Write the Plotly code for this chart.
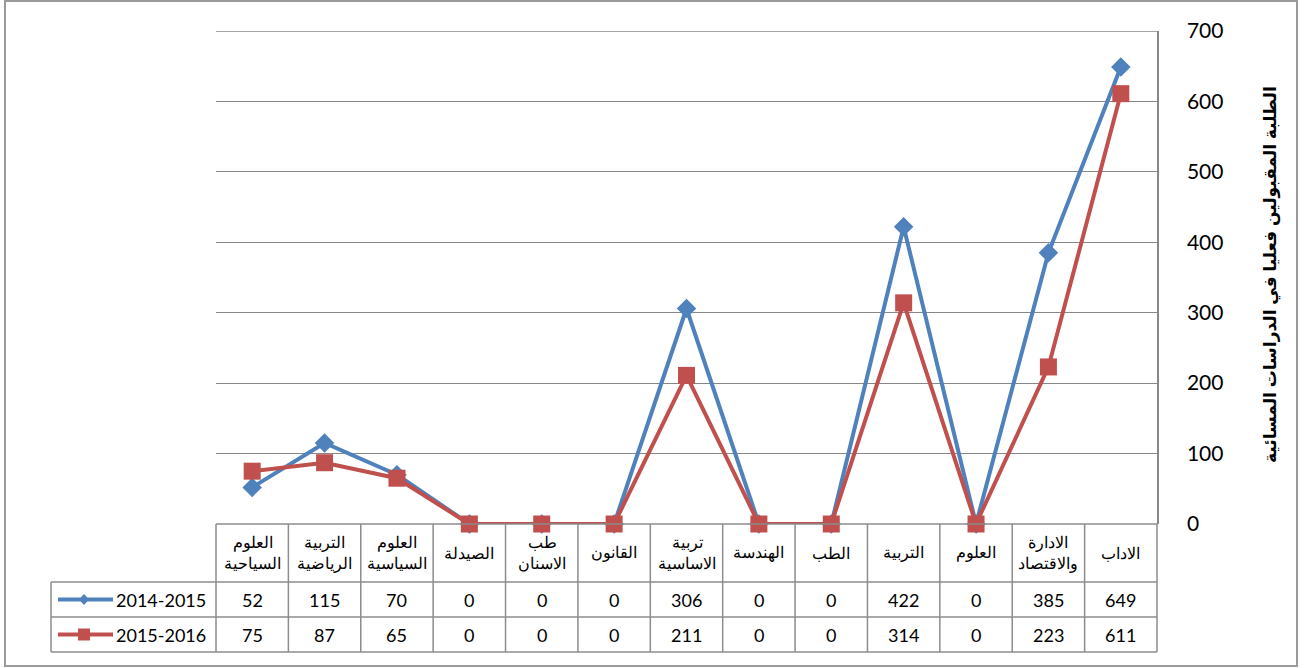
import plotly.graph_objects as go

categories = ["الاداب", "الادارة<br>والاقتصاد", "العلوم", "التربية", "الطب", "الهندسة",
              "تربية<br>الاساسية", "القانون", "طب<br>الاسنان", "الصيدلة",
              "العلوم<br>السياسية", "التربية<br>الرياضية", "العلوم<br>السياحية"]
series_names = ["2014-2015", "2015-2016"]
values_2014 = [649, 385, 0, 422, 0, 0, 306, 0, 0, 0, 70, 115, 52]
values_2015 = [611, 223, 0, 314, 0, 0, 211, 0, 0, 0, 65, 87, 75]
y_ticks = [0, 100, 200, 300, 400, 500, 600, 700]
y_title = "الطلبة المقبولين فعليا في الدراسات المسائية"

W, H = 1304, 668
ML, MR, MT, MB = 216, 147, 31, 144
PW, PH = W - ML - MR, H - MT - MB
n = len(categories)
idx = list(range(n))

def px(x):
    return (x - ML) / PW

def py(y):
    return (H - MB - y) / PH

blue = "#4F81BD"
red = "#C0504D"
grid = "#878787"
tblc = "#8c8c8c"

fig = go.Figure()
fig.add_trace(go.Scatter(x=idx, y=values_2014, mode="lines+markers", name=series_names[0],
                         line=dict(color=blue, width=4),
                         marker=dict(symbol="diamond", size=15, color=blue),
                         cliponaxis=False, showlegend=False))
fig.add_trace(go.Scatter(x=idx, y=values_2015, mode="lines+markers", name=series_names[1],
                         line=dict(color=red, width=4),
                         marker=dict(symbol="square", size=17, color=red),
                         cliponaxis=False, showlegend=False))

shapes = []
annotations = []

# top gridline at the max tick
shapes.append(dict(type="line", xref="paper", yref="y", x0=0, x1=1,
                   y0=y_ticks[-1], y1=y_ticks[-1], line=dict(color=grid, width=1.3),
                   layer="below"))

# table geometry (pixels)
y_hdr_top = H - MB
y_hdr_bot, y_r1_bot, y_r2_bot = 582, 617, 652
x_leg_left = 51

def colx(b):
    return (n - b) / n

tl = dict(color=tblc, width=1.5)
for yy in [y_hdr_bot, y_r1_bot, y_r2_bot]:
    shapes.append(dict(type="line", xref="paper", yref="paper", x0=px(x_leg_left), x1=1,
                       y0=py(yy), y1=py(yy), line=tl))
shapes.append(dict(type="line", xref="paper", yref="paper", x0=0, x1=1, y0=0, y1=0, line=tl))
for b in range(n + 1):
    shapes.append(dict(type="line", xref="paper", yref="paper", x0=colx(b), x1=colx(b),
                       y0=0, y1=py(y_r2_bot), line=tl))
shapes.append(dict(type="line", xref="paper", yref="paper", x0=px(x_leg_left), x1=px(x_leg_left),
                   y0=py(y_hdr_bot), y1=py(y_r2_bot), line=tl))

# outer chart border
shapes.append(dict(type="rect", xref="paper", yref="paper", x0=px(5), x1=px(1297),
                   y0=py(666), y1=py(1), line=dict(color="#9a9a9a", width=2), layer="below"))

arfont = dict(family="Liberation Serif, DejaVu Serif, serif", size=16, color="#000")
numfont = dict(family="Lato, Open Sans, sans-serif", size=18, color="#000")

for i, c in enumerate(categories):
    annotations.append(dict(x=i, y=py((y_hdr_top + y_hdr_bot) / 2), xref="x", yref="paper",
                            text=c, showarrow=False, font=arfont, align="center",
                            xanchor="center", yanchor="middle"))
    annotations.append(dict(x=i, y=py((y_hdr_bot + y_r1_bot) / 2), xref="x", yref="paper",
                            text=str(values_2014[i]), showarrow=False, font=numfont,
                            xanchor="center", yanchor="middle"))
    annotations.append(dict(x=i, y=py((y_r1_bot + y_r2_bot) / 2), xref="x", yref="paper",
                            text=str(values_2015[i]), showarrow=False, font=numfont,
                            xanchor="center", yanchor="middle"))

for name, col, sym, yy in [(series_names[0], blue, "diamond", (y_hdr_bot + y_r1_bot) / 2),
                           (series_names[1], red, "square", (y_r1_bot + y_r2_bot) / 2)]:
    shapes.append(dict(type="line", xref="paper", yref="paper", x0=px(58), x1=px(113),
                       y0=py(yy), y1=py(yy), line=dict(color=col, width=4)))
    if sym == "diamond":
        path = "M0,-5.5 L5,0 L0,5.5 L-5,0 Z"
    else:
        path = "M-6,-6 L6,-6 L6,6 L-6,6 Z"
    shapes.append(dict(type="path", xref="paper", yref="paper", xsizemode="pixel",
                       ysizemode="pixel", xanchor=px(84), yanchor=py(yy), path=path,
                       fillcolor=col, line=dict(color=col, width=0)))
    annotations.append(dict(x=px(208), y=py(yy), xref="paper", yref="paper", text=name,
                            showarrow=False, xanchor="right", yanchor="middle", font=numfont))

annotations.append(dict(x=px(1271), y=py(275), xref="paper", yref="paper", text=y_title,
                        textangle=-90, showarrow=False, xanchor="center", yanchor="middle",
                        font=dict(family="Liberation Sans, DejaVu Sans, sans-serif", size=17,
                                  color="#000", weight="bold")))

fig.update_layout(
    width=W, height=H,
    margin=dict(l=ML, r=MR, t=MT, b=MB),
    plot_bgcolor="white", paper_bgcolor="white",
    shapes=shapes, annotations=annotations,
    xaxis=dict(range=[n - 0.5, -0.5], showticklabels=False, showgrid=False,
               zeroline=False, ticks=""),
    yaxis=dict(range=[0, 700], side="right", tickvals=y_ticks, showgrid=True,
               gridcolor=grid, gridwidth=1.3, zeroline=False, showline=True,
               linecolor=grid, linewidth=1.5, ticks="", ticklabelstandoff=24,
               tickfont=dict(family="Lato, Open Sans, sans-serif", size=21, color="#000")),
)

fig.write_html("out.html", config={"displayModeBar": False},
               post_script="document.body.style.margin='0px';")
